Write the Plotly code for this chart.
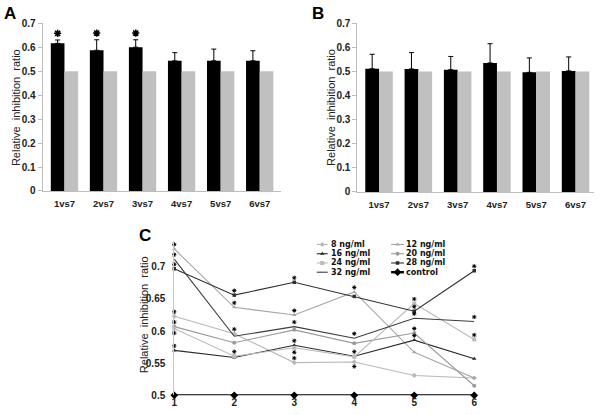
import plotly.graph_objects as go

W, H = 600, 415

# ---------------- data ----------------
categories = ['1vs7', '2vs7', '3vs7', '4vs7', '5vs7', '6vs7']

a_treat = [0.617, 0.588, 0.601, 0.544, 0.544, 0.544]
a_err = [0.014, 0.044, 0.031, 0.034, 0.049, 0.042]
a_ctrl = [0.50, 0.50, 0.50, 0.50, 0.50, 0.50]
a_sig = [True, True, True, False, False, False]

b_treat = [0.512, 0.511, 0.508, 0.536, 0.497, 0.503]
b_err = [0.060, 0.068, 0.055, 0.080, 0.060, 0.058]
b_ctrl = [0.50, 0.50, 0.50, 0.50, 0.50, 0.50]

c_x = [1, 2, 3, 4, 5, 6]
c_8 = [0.623, 0.596, 0.551, 0.552, 0.531, 0.527]
c_12 = [0.728, 0.637, 0.625, 0.661, 0.567, 0.527]
c_16 = [0.570, 0.559, 0.578, 0.561, 0.586, 0.557]
c_20 = [0.607, 0.582, 0.602, 0.581, 0.597, 0.515]
c_24 = [0.604, 0.561, 0.574, 0.560, 0.643, 0.587]
c_28 = [0.697, 0.656, 0.676, 0.654, 0.631, 0.694]
c_32 = [0.712, 0.592, 0.607, 0.589, 0.620, 0.615]
c_ctrl = [0.50, 0.50, 0.50, 0.50, 0.50, 0.50]

# significance marks in C: +1 above the point, -1 below, 0 none
s_8 = [1, 1, 1, -1, 0, 0]
s_12 = [1, 1, 1, 1, 0, 0]
s_16 = [1, 0, 1, 1, 1, 0]
s_20 = [1, 0, 0, 0, 1, 0]
s_24 = [-1, 1, -1, 0, 1, 1]
s_28 = [1, 1, 1, 0, 1, 1]
s_32 = [1, 0, 1, 1, 1, 1]

c_ticks = [0.5, 0.55, 0.6, 0.65, 0.7]
c_ticktext = ['0.5', '0.55', '0.6', '0.65', '0.7']

# ---------------- styles ----------------
FONT = 'Liberation Sans, Arial, sans-serif'
LEGFONT = 'DejaVu Sans, Liberation Sans, sans-serif'
BLACK = '#000000'
GREY = '#c0c0c0'
AXC = '#bdbdbd'
BW = 0.35

c_series = [
    ('8 ng/ml', c_8, s_8, dict(color='#b8b8b8', symbol='diamond', size=4, width=1.1)),
    ('12 ng/ml', c_12, s_12, dict(color='#a6a6a6', symbol='triangle-up', size=4, width=1.1)),
    ('16 ng/ml', c_16, s_16, dict(color='#2a2a2a', symbol='triangle-up', size=4, width=1.1)),
    ('20 ng/ml', c_20, s_20, dict(color='#9a9a9a', symbol='circle', size=4, width=1.1)),
    ('24 ng/ml', c_24, s_24, dict(color='#bcbcbc', symbol='square', size=4, width=1.1)),
    ('28 ng/ml', c_28, s_28, dict(color='#2e2e2e', symbol='square', size=3.5, width=1.1)),
    ('32 ng/ml', c_32, s_32, dict(color='#3c3c3c', symbol=None, size=0, width=1.1)),
    ('control', c_ctrl, None, dict(color='#000000', symbol='diamond', size=6, width=2.4)),
]

fig = go.Figure()

xpos = list(range(len(categories)))


def add_bars(treat, err, ctrl, xa, ya):
    fig.add_trace(go.Bar(x=xpos, y=treat, width=BW, offset=-BW, marker=dict(color=BLACK, line=dict(width=0)),
                         error_y=dict(type='data', array=err, arrayminus=[0] * len(err), symmetric=False,
                                      color=BLACK, thickness=1, width=2.5),
                         xaxis=xa, yaxis=ya, showlegend=False))
    fig.add_trace(go.Bar(x=xpos, y=ctrl, width=BW, offset=0, marker=dict(color=GREY, line=dict(width=0)),
                         xaxis=xa, yaxis=ya, showlegend=False))


add_bars(a_treat, a_err, a_ctrl, 'x', 'y')
add_bars(b_treat, b_err, b_ctrl, 'x2', 'y2')

# stars on A (above the error bars, with a small gap)
sx = [i - BW / 2 for i, s in zip(xpos, a_sig) if s]
sy = [v + e + 0.028 for v, e, s in zip(a_treat, a_err, a_sig) if s]
fig.add_trace(go.Scatter(x=sx, y=sy, mode='markers',
                         marker=dict(symbol='asterisk-open', size=6, color=BLACK,
                                     line=dict(width=1.6, color=BLACK)),
                         cliponaxis=False, xaxis='x', yaxis='y', showlegend=False))

# panel C lines
for name, vals, sig, st in c_series:
    mode = 'lines+markers' if st['symbol'] else 'lines'
    fig.add_trace(go.Scatter(x=c_x, y=vals, mode=mode,
                             line=dict(color=st['color'], width=st['width']),
                             marker=dict(symbol=st['symbol'] or 'circle', size=st['size'], color=st['color']),
                             cliponaxis=False, xaxis='x3', yaxis='y3', showlegend=False, name=name))

# asterisks on C
STAR_OFF = 0.007
stx, sty = [], []
for name, vals, sig, st in c_series:
    if sig is None:
        continue
    for x, v, s in zip(c_x, vals, sig):
        if s:
            stx.append(x)
            sty.append(v + s * STAR_OFF)
fig.add_trace(go.Scatter(x=stx, y=sty, mode='markers',
                         marker=dict(symbol='asterisk-open', size=3.5, color=BLACK,
                                     line=dict(width=1, color=BLACK)),
                         cliponaxis=False, xaxis='x3', yaxis='y3', showlegend=False))

# ---------------- manual legend for C (pixel overlay) ----------------
LEG_ROWS = [246, 255.5, 265, 274.5]
LEG_COLS = [(317, 328, 330), (392, 405, 406)]
annotations = []
for k, (name, vals, sig, st) in enumerate(c_series):
    col = k % 2
    row = k // 2
    x0, x1, xt = LEG_COLS[col]
    yy = LEG_ROWS[row]
    fig.add_trace(go.Scatter(x=[x0, x1], y=[yy, yy], mode='lines',
                             line=dict(color=st['color'], width=st['width']),
                             xaxis='x4', yaxis='y4', showlegend=False, hoverinfo='skip'))
    if st['symbol']:
        fig.add_trace(go.Scatter(x=[(x0 + x1) / 2], y=[yy], mode='markers',
                                 marker=dict(symbol=st['symbol'], size=st['size'], color=st['color']),
                                 xaxis='x4', yaxis='y4', showlegend=False, hoverinfo='skip'))
    annotations.append(dict(x=xt, y=yy, xref='x4', yref='y4', text=name, showarrow=False,
                            xanchor='left', yanchor='middle', borderpad=0,
                            font=dict(family=LEGFONT, size=8, color='#111', weight='bold')))

# panel letters and axis titles
for txt, px, py in [('A', 7, 9), ('B', 318, 9), ('C', 143, 237)]:
    annotations.append(dict(x=px / W, y=1 - py / H, xref='paper', yref='paper', text=txt, showarrow=False,
                            xanchor='center', yanchor='middle',
                            font=dict(family=FONT, size=17, color=BLACK, weight='bold')))
ytitle = 'Relative\u00a0 inhibition\u00a0 ratio'
for px, py in [(13, 105), (332, 105), (142, 318)]:
    annotations.append(dict(x=px / W, y=1 - py / H, xref='paper', yref='paper', text=ytitle, showarrow=False,
                            textangle=-90, xanchor='center', yanchor='middle',
                            font=dict(family=FONT, size=11, color='#222')))

tick_bold = dict(family=FONT, size=10, color='#222', weight='bold')

bar_x = dict(tickvals=xpos, ticktext=categories, showline=True, linecolor=AXC, linewidth=1,
             ticks='', showgrid=False, zeroline=False, ticklabelstandoff=4,
             tickfont=dict(family=FONT, size=9.5, color='#222', weight='bold'))
bar_y = dict(range=[0, 0.7], dtick=0.1, showline=True, linecolor=AXC, linewidth=1, ticks='outside',
             ticklen=4, tickcolor=AXC, showgrid=False, zeroline=False, tickfont=tick_bold)

fig.update_layout(
    width=W, height=H, margin=dict(l=0, r=0, t=0, b=0),
    paper_bgcolor='white', plot_bgcolor='rgba(0,0,0,0)', showlegend=False,
    font=dict(family=FONT, color='#222'),
    barmode='overlay',
    xaxis=dict(domain=[40 / W, 281 / W], range=[-0.56, 5.55], anchor='y', **bar_x),
    yaxis=dict(domain=[1 - 191 / H, 1 - 19 / H], anchor='x', **bar_y),
    xaxis2=dict(domain=[358 / W, 597 / W], range=[-0.55, 5.47], anchor='y2', **bar_x),
    yaxis2=dict(domain=[1 - 192 / H, 1 - 19 / H], anchor='x2', **bar_y),
    xaxis3=dict(domain=[173 / W, 476 / W], range=[1, 6], dtick=1, anchor='y3', showline=False, ticks='',
                showgrid=False, zeroline=False, tickfont=tick_bold),
    yaxis3=dict(domain=[1 - 401 / H, 1 - 242.6 / H], range=[0.5, 0.74], tickvals=c_ticks, ticktext=c_ticktext,
                anchor='x3', showline=True, linecolor='#c8c8c8', linewidth=1, ticks='', showgrid=False,
                zeroline=False, tickfont=tick_bold, ticklabelstandoff=6),
    xaxis4=dict(domain=[0, 1], range=[0, W], visible=False, anchor='y4'),
    yaxis4=dict(domain=[0, 1], range=[H, 0], visible=False, anchor='x4'),
    annotations=annotations,
)

fig.write_html('out.html', config={'displayModeBar': False},
               post_script="document.body.style.margin='0';document.body.style.overflow='hidden';")
